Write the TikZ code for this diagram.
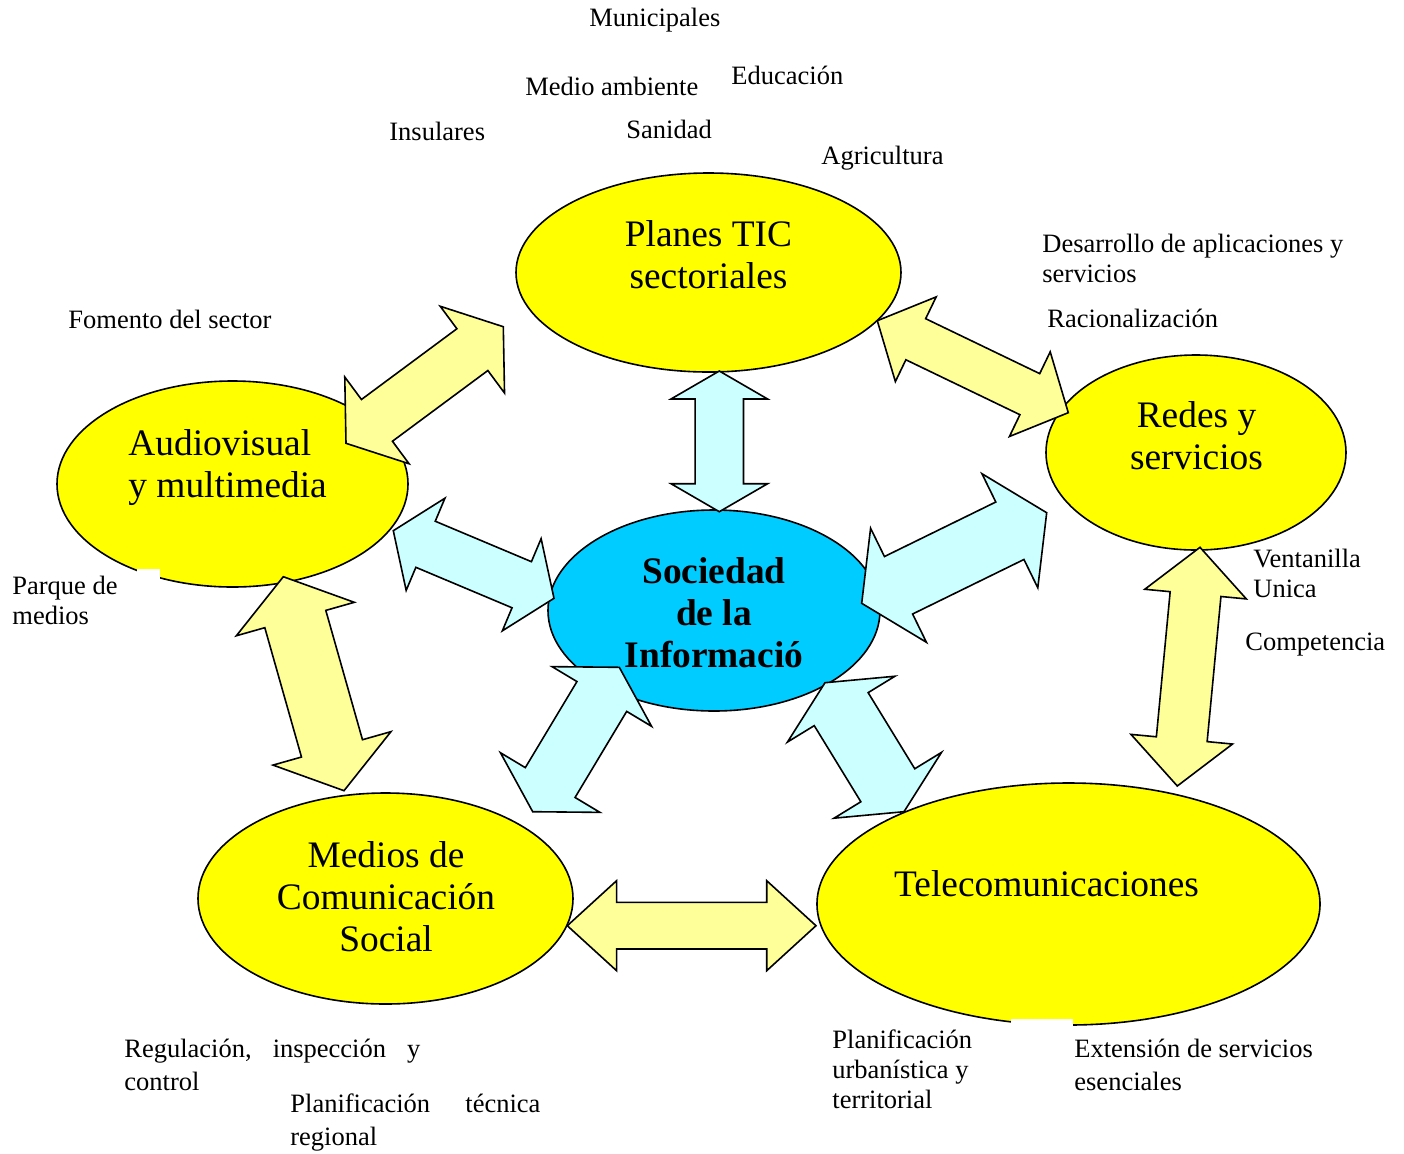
\documentclass[tikz,border=0pt]{standalone}
\usepackage{fontspec}
\setmainfont{Liberation Serif}
\usetikzlibrary{shapes.geometric}
\definecolor{ovalyellow}{HTML}{FFFF00}
\definecolor{paleyellow}{HTML}{FFFF99}
\definecolor{palecyan}{HTML}{CCFFFF}
\definecolor{skyblue}{HTML}{00CCFF}
\tikzset{
  oval/.style={ellipse, draw=black, line width=0.8pt, inner sep=0pt},
  bigtext/.style={font=\fontsize{18.7}{21}\selectfont, inner sep=0pt, align=center, anchor=base},
  smalltext/.style={font=\fontsize{13.25}{15}\selectfont, inner sep=0pt, align=left, anchor=base west},
  widetext/.style={font=\fontsize{13.25}{16.5}\selectfont, inner sep=0pt, align=left, anchor=base west},
  blockarrow/.style={draw=black, line width=0.8pt, line join=miter},
}
% double block arrow: fill, x1, y1, x2, y2 (tips), shaft half width, head length, head half width
\newcommand\dblarrow[8]{%
  \pgfmathsetmacro\ddx{#4-#2}%
  \pgfmathsetmacro\ddy{#5-#3}%
  \pgfmathsetmacro\dlen{veclen(\ddx,\ddy)}%
  \pgfmathsetmacro\dang{atan2(-\ddy,\ddx)}%
  \pgfmathsetmacro\dhb{\dlen-#7}%
  \begin{scope}[shift={(#2,#3)},rotate=\dang]
    \draw[blockarrow,fill=#1] (0,0) -- (#7,#8) -- (#7,#6) -- (\dhb,#6) -- (\dhb,#8) -- (\dlen,0)
      -- (\dhb,-#8) -- (\dhb,-#6) -- (#7,-#6) -- (#7,-#8) -- cycle;
  \end{scope}}
\begin{document}
\begin{tikzpicture}[x=0.5pt,y=-0.5pt]
\useasboundingbox (0,0) rectangle (1404,1153);

% ovals
\node[oval, fill=ovalyellow, minimum width=192.5pt, minimum height=99.5pt] (planes) at (708.5,272.5) {};
\node[oval, fill=ovalyellow, minimum width=175.5pt, minimum height=103pt] (audio) at (232.5,484) {};
\node[oval, fill=skyblue, minimum width=166pt, minimum height=100.5pt] (soc) at (714,610.5) {};
\node[oval, fill=ovalyellow, minimum width=150pt, minimum height=97.5pt] (redes) at (1196,452.5) {};
\node[oval, fill=ovalyellow, minimum width=187.5pt, minimum height=105.5pt] (medios) at (385.5,898.5) {};
\node[oval, fill=ovalyellow, minimum width=251.5pt, minimum height=121pt] (tele) at (1068.5,904) {};

% oval texts (base anchor = baseline of the last line)
\node[bigtext] (tplanes) at (708.5,288) {Planes TIC\\sectoriales};
\node[bigtext, align=left, anchor=base west] (taudio) at (128,497) {Audiovisual\\y multimedia};
\node[bigtext, font=\fontsize{18.7}{21}\selectfont\bfseries] (tsoc) at (714,667) {Sociedad\\de la\\Informació};
\node[bigtext] (tredes) at (1196.5,469) {Redes y\\servicios};
\node[bigtext] (tmedios) at (386,951) {Medios de\\Comunicación\\Social};
\node[bigtext] (ttele) at (1046.5,896) {Telecomunicaciones};

% block arrows
\dblarrow{paleyellow}{346}{443.3}{503.3}{326.7}{26}{38.5}{54}
\dblarrow{palecyan}{393.3}{530.7}{554}{598.3}{25}{35}{50}
\dblarrow{palecyan}{619.3}{667.3}{532.7}{811.7}{29}{34}{58}
\dblarrow{palecyan}{861.7}{603.3}{1046.7}{512.7}{32}{41}{63.5}
\dblarrow{palecyan}{825}{682.7}{904}{811.7}{31.6}{31}{63}
\dblarrow{palecyan}{719.3}{371}{719.3}{511.7}{24.2}{28}{48.3}
\dblarrow{paleyellow}{877.3}{320.7}{1068.3}{412.7}{22.8}{42.7}{47}
\dblarrow{paleyellow}{283.3}{576.7}{344}{790.7}{31.7}{44}{61.3}
\dblarrow{paleyellow}{1200}{547.3}{1177.3}{786}{25.5}{47}{51}
\dblarrow{paleyellow}{567.3}{925.7}{816}{925.7}{23.3}{49.3}{45}

% white patches of the text boxes over the oval outlines
\fill[white] (137,569) rectangle (160,592);
\fill[white] (1011,1019) rectangle (1073,1032);

% small labels (base anchor = baseline of the last line)
\node[smalltext] (l1) at (589,26) {Municipales};
\node[smalltext] (l2) at (525,95) {Medio ambiente};
\node[smalltext] (l3) at (731,84) {Educación};
\node[smalltext] (l4) at (389,140) {Insulares};
\node[smalltext] (l5) at (626,138) {Sanidad};
\node[smalltext] (l6) at (821,164) {Agricultura};
\node[smalltext] (l7) at (1042,282) {Desarrollo de aplicaciones y\\servicios};
\node[smalltext] (l8) at (1047,327) {Racionalización};
\node[smalltext] (l9) at (68,328) {Fomento del sector};
\node[smalltext] (l10) at (12,624) {Parque de\\medios};
\node[smalltext] (l11) at (1253,597) {Ventanilla\\Unica};
\node[smalltext] (l12) at (1245,650) {Competencia};
\node[widetext] (l13) at (124,1090) {\hbox to 148pt{Regulación,\hfill inspección\hfill y}\\control};
\node[widetext] (l14) at (290,1145) {\hbox to 125pt{Planificación\hfill técnica}\\regional};
\node[smalltext] (l15) at (832,1108) {Planificación\\urbanística y\\territorial};
\node[widetext] (l16) at (1074,1090) {Extensión de servicios\\esenciales};
\end{tikzpicture}
\end{document}
